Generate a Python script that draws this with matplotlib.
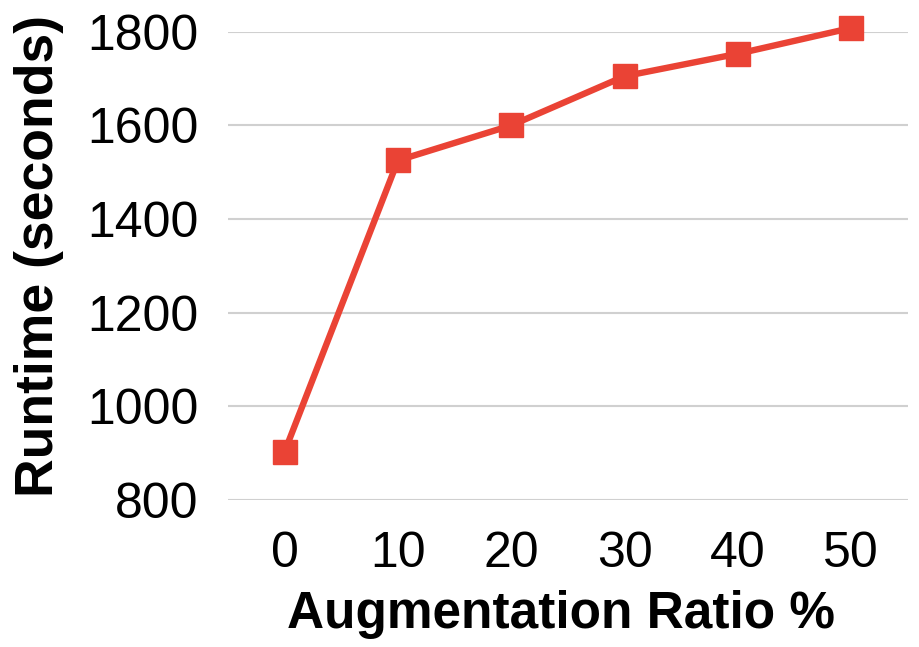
import matplotlib.pyplot as plt

ratios = [0, 10, 20, 30, 40, 50]
runtime = [903, 1525, 1600, 1705, 1753, 1808]
y_ticks = [800, 1000, 1200, 1400, 1600, 1800]


def main():
	plt.rcParams['font.family'] = ['Liberation Sans', 'DejaVu Sans']
	fig = plt.figure(figsize=(9.19, 6.47), dpi=100)
	ax = fig.add_axes([0.248, 0.2272, 0.740, 0.7238])

	ax.plot(ratios, runtime, color='#EA4335', linewidth=4.6, marker='s',
		markersize=17.5, clip_on=False, zorder=3)

	ax.set_xlim(-5, 55)
	ax.set_ylim(800, 1800)
	ax.set_xticks(ratios)
	ax.set_yticks(y_ticks)
	ax.tick_params(axis='both', length=0, labelsize=36)
	ax.tick_params(axis='y', pad=21)
	ax.tick_params(axis='x', pad=22)
	ax.grid(axis='y', color='#D0D0D0', linewidth=1.5)
	ax.set_axisbelow(True)
	for s in ax.spines.values():
		s.set_visible(False)

	ax.set_xlabel('Augmentation Ratio %', fontsize=37, fontweight='bold', labelpad=10)
	ax.set_ylabel('Runtime (seconds)', fontsize=38.5, fontweight='bold', labelpad=17)
	ax.xaxis.label.set_x(0.49)
	ax.yaxis.label.set_y(0.522)

	fig.savefig('out.png', dpi=100)


if __name__ == '__main__':
	main()
